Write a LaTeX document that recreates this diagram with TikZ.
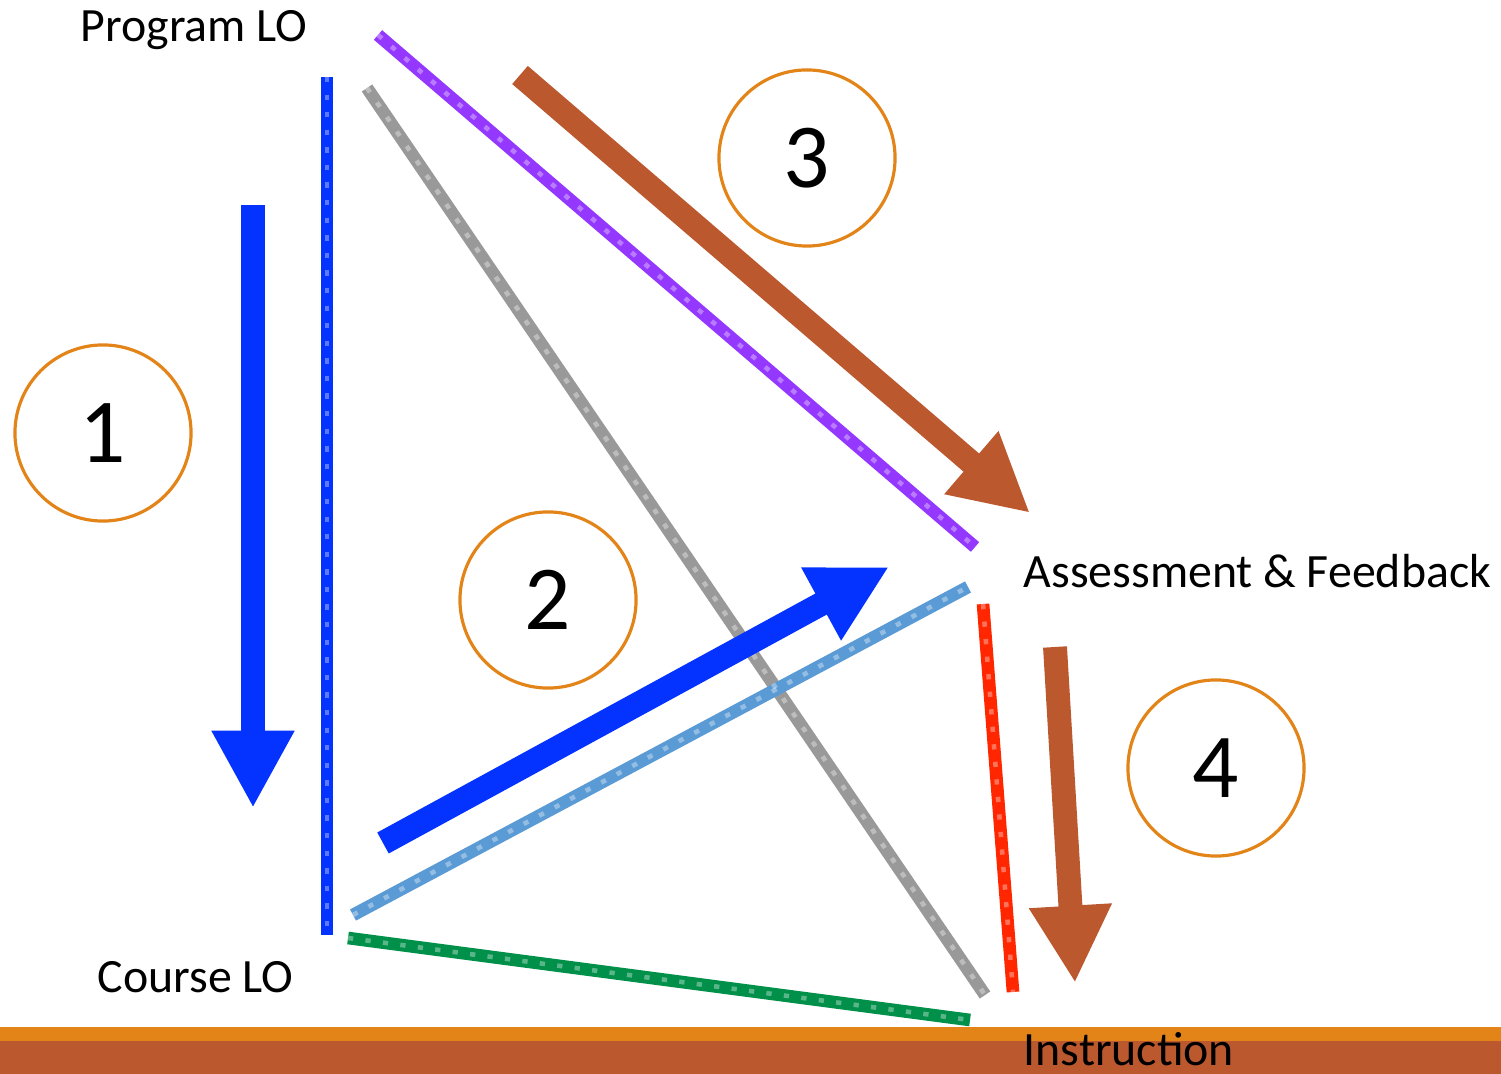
\documentclass[tikz,border=0pt]{standalone}
\usepackage{fontspec}
\setmainfont{Carlito}
\usetikzlibrary{arrows.meta, positioning}

\definecolor{flowblue}{RGB}{4,51,255}
\definecolor{flowbrown}{RGB}{188,88,46}
\definecolor{ringorange}{RGB}{226,132,24}
\definecolor{linkpurple}{RGB}{148,55,255}
\definecolor{linkgray}{RGB}{153,153,153}
\definecolor{linksky}{RGB}{91,155,213}
\definecolor{linkgreen}{RGB}{0,144,74}
\definecolor{linkred}{RGB}{255,38,0}

\begin{document}
\begin{tikzpicture}[
  x=0.01cm, y=-0.01cm,
  every node/.style={font=\fontsize{13.6}{16}\selectfont},
  lbl/.style={inner sep=0pt, anchor=base west},
  num/.style={circle, draw=ringorange, line width=0.9pt, minimum size=1.76cm, inner sep=0pt, font=\fontsize{26}{30}\selectfont},
  link/.style={line width=3.6pt},
  grain/.style={line width=1.3pt, white, opacity=0.35, dash pattern=on 1.5pt off 3.5pt},
  bigarr/.style={line width=6.8pt, -{Triangle[length=22pt, width=22pt]}},
]

% Frame
\useasboundingbox (0,0) rectangle (1501,1074);

% Instruction bar
\fill[ringorange] (0,1027) rectangle (1501,1041);
\fill[flowbrown] (0,1041) rectangle (1501,1074);

% Labels
\node[lbl] (plo) at (80,42) {Program LO};
\node[lbl] (clo) at (97,992) {Course LO};
\node[lbl] (af) at (1023,588) {Assessment \& Feedback};
\node[lbl] (ins) at (1023,1065) {Instruction};

% Line ends
\coordinate (bluetop) at (327,77);
\coordinate (bluebot) at (327,935);
\coordinate (purpletop) at (378,35);
\coordinate (purplebot) at (975,547);
\coordinate (graytop) at (367,88);
\coordinate (graybot) at (985,995);
\coordinate (skybot) at (353,915);
\coordinate (skytop) at (968,587);
\coordinate (greenl) at (348,938);
\coordinate (greenr) at (970,1020);
\coordinate (redtop) at (983,604);
\coordinate (redbot) at (1013,992);

% Alignment links
\draw[link, flowblue] (bluetop) -- (bluebot);
\draw[link, linkpurple] (purpletop) -- (purplebot);
\draw[link, linkgray] (graytop) -- (graybot);
\draw[link, linksky] (skybot) -- (skytop);
\draw[link, linkgreen] (greenl) -- (greenr);
\draw[link, linkred] (redtop) -- (redbot);

% Chalky texture
\draw[grain] (bluetop) -- (bluebot);
\draw[grain] (purpletop) -- (purplebot);
\draw[grain] (graytop) -- (graybot);
\draw[grain] (skybot) -- (skytop);
\draw[grain] (greenl) -- (greenr);
\draw[grain] (redtop) -- (redbot);

% Arrow ends
\coordinate (a1s) at (253,205);
\coordinate (a1e) at (253,808);
\coordinate (a2s) at (383,843);
\coordinate (a2e) at (889,567);
\coordinate (a3s) at (520,75);
\coordinate (a3e) at (1030,513);
\coordinate (a4s) at (1055,647);
\coordinate (a4e) at (1075,983);

% Flow arrows
\draw[bigarr, flowblue] (a1s) -- (a1e);
\draw[bigarr, flowblue] (a2s) -- (a2e);
\draw[bigarr, flowbrown] (a3s) -- (a3e);
\draw[bigarr, flowbrown] (a4s) -- (a4e);

% Step numbers
\node[num] (n1) at (103,433) {1};
\node[num] (n2) at (548,600) {2};
\node[num] (n3) at (807,158) {3};
\node[num] (n4) at (1216,768) {4};

\end{tikzpicture}
\end{document}
